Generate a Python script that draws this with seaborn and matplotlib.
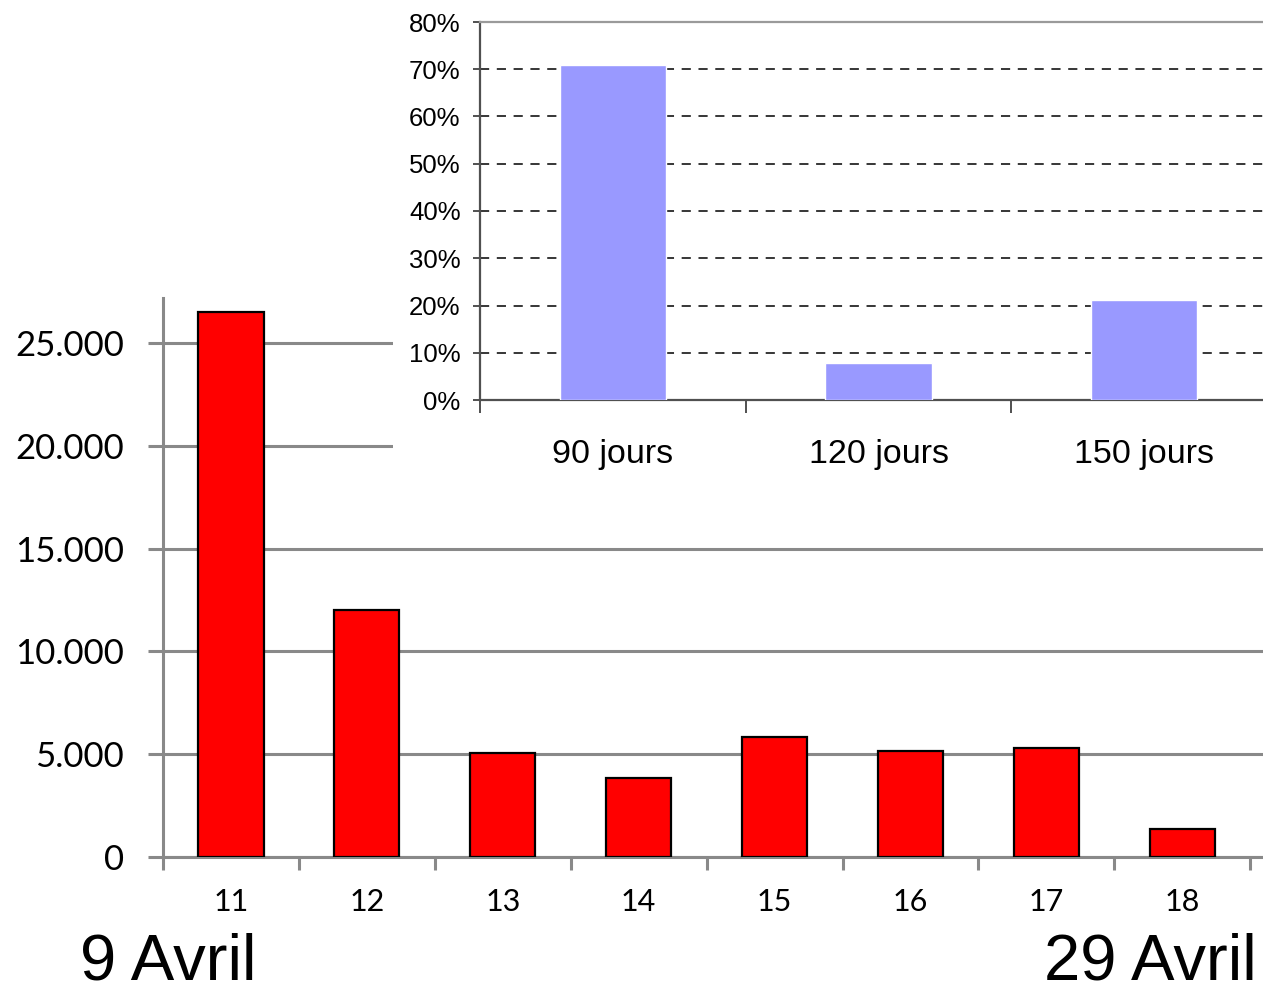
import numpy as np
import pandas as pd
import seaborn as sns
import matplotlib.pyplot as plt
from matplotlib.ticker import FuncFormatter, FixedLocator

# Données
jours = ["11", "12", "13", "14", "15", "16", "17", "18"]
cas = [26500, 12000, 5050, 3850, 5850, 5150, 5300, 1380]

delais = ["90 jours", "120 jours", "150 jours"]
parts = [71.0, 7.8, 21.2]

sns.set_theme(style="white")
plt.rcParams["font.family"] = ["Lato", "DejaVu Sans"]
plt.rcParams["text.color"] = "black"
plt.rcParams["xtick.labelcolor"] = "black"
plt.rcParams["ytick.labelcolor"] = "black"

W, H = 1263, 985
fig = plt.figure(figsize=(W / 100, H / 100), dpi=100)
fig.patch.set_facecolor("white")


def box(x0, y0, x1, y1):
    # pixels (origine en haut à gauche) -> fraction de figure
    return [x0 / W, 1 - y1 / H, (x1 - x0) / W, (y1 - y0) / H]


grey = "#898989"

# Graphique principal
ax = fig.add_axes(box(163, 298, 1263, 857))
df = pd.DataFrame({"jour": jours, "cas": cas})
sns.barplot(data=df, x="jour", y="cas", color="#ff0000", edgecolor="black",
            linewidth=1.6, width=0.48, saturation=1, ax=ax, zorder=3)
ax.set_xlim(-0.5, 7.594)
ax.set_ylim(0, 27200)
ax.set_yticks(np.arange(0, 25001, 5000))
ax.yaxis.set_major_formatter(FuncFormatter(lambda v, p: f"{int(v):,}".replace(",", ".")))
ax.yaxis.grid(True, color=grey, linewidth=2.2)
ax.set_axisbelow(True)
for s in ["top", "right"]:
    ax.spines[s].set_visible(False)
for s in ["left", "bottom"]:
    ax.spines[s].set_color(grey)
    ax.spines[s].set_linewidth(2.2)
ax.tick_params(axis="y", length=11, width=2.2, color=grey, pad=17, labelsize=25,
               labelcolor="black", left=True)
ax.tick_params(axis="x", which="major", length=0, pad=22, labelsize=22, labelcolor="black")
ax.xaxis.set_minor_locator(FixedLocator(np.arange(-0.5, 8, 1)))
ax.tick_params(axis="x", which="minor", length=9, width=2.2, color=grey, bottom=True)
ax.set_xlabel("")
ax.set_ylabel("")

# Fond blanc derrière l'encart
bg = fig.add_axes(box(393, 0, 1263, 490))
bg.set_facecolor("white")
bg.set_xticks([])
bg.set_yticks([])
for s in bg.spines.values():
    s.set_visible(False)

# Encart
ins = fig.add_axes(box(480, 22, 1263, 400))
dfi = pd.DataFrame({"delai": delais, "part": parts})
sns.barplot(data=dfi, x="delai", y="part", color="#9999ff", width=0.40,
            saturation=1, ax=ins, zorder=3)
ins.set_xlim(-0.5, 2.447)
ins.set_ylim(0, 80)
ins.set_yticks(np.arange(0, 81, 10))
ins.yaxis.set_major_formatter(FuncFormatter(lambda v, p: f"{int(v)}%"))
ins.yaxis.grid(True, color="black", linewidth=1.1, linestyle=(0, (6, 5)))
ins.set_axisbelow(True)
ins.spines["right"].set_visible(False)
ins.spines["top"].set_color("#9a9a9a")
ins.spines["top"].set_linewidth(1.6)
for s in ["left", "bottom"]:
    ins.spines[s].set_color("#505050")
    ins.spines[s].set_linewidth(1.6)
for lab in ins.get_xticklabels() + ins.get_yticklabels():
    lab.set_family(["Liberation Sans", "DejaVu Sans"])
ins.tick_params(axis="y", length=5, width=1.4, color="#505050", pad=9, labelsize=18.5,
                labelcolor="black", left=True)
ins.tick_params(axis="x", which="major", length=0, pad=28, labelsize=24.5, labelcolor="black")
ins.xaxis.set_minor_locator(FixedLocator([-0.5, 0.5, 1.5]))
ins.tick_params(axis="x", which="minor", length=9, width=1.4, color="#505050", bottom=True)
ins.set_xlabel("")
ins.set_ylabel("")

# Dates
fig.text(80 / W, 5 / H, "9 Avril", fontsize=47, va="baseline", ha="left",
         color="black", family=["Liberation Sans", "DejaVu Sans"])
fig.text(1257 / W, 5 / H, "29 Avril", fontsize=47, va="baseline", ha="right",
         color="black", family=["Liberation Sans", "DejaVu Sans"])

fig.savefig("out.png", dpi=100, facecolor="white")
